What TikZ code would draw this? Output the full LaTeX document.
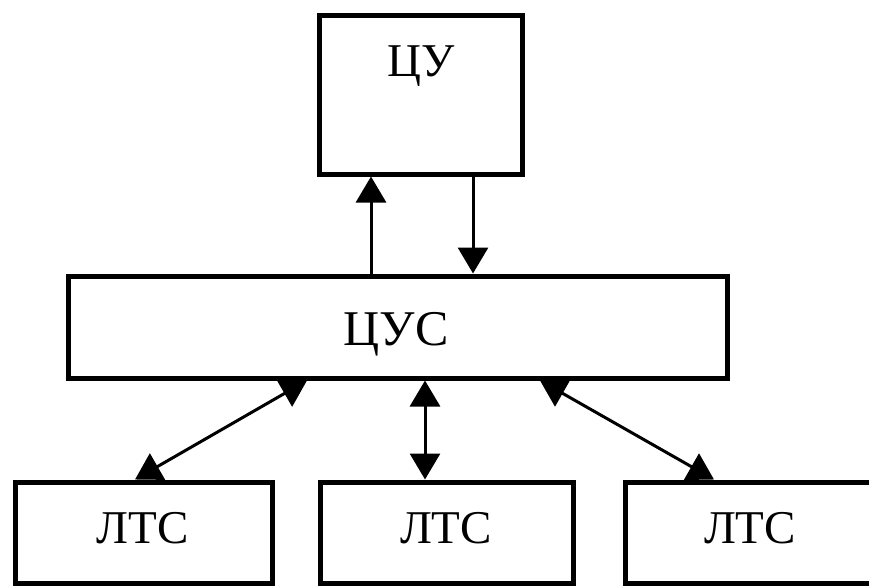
\documentclass[tikz,border=0pt]{standalone}
\usepackage{fontspec}
\setmainfont{Liberation Serif}
\usetikzlibrary{arrows.meta}
\begin{document}
\begin{tikzpicture}[x=1pt,y=-1pt,
  block/.style={draw,line width=5pt,minimum width=#1,inner sep=0pt},
  lbl/.style={font=\fontsize{47}{50}\selectfont,inner sep=0pt,anchor=base},
  tip/.style={Triangle[width=30pt,length=26pt]},
  link/.style={line width=3pt,-{Triangle[width=30pt,length=26pt]}},
  dlink/.style={line width=3pt,{Triangle[width=30pt,length=26pt]}-{Triangle[width=30pt,length=26pt]}}]
\useasboundingbox (0,0) rectangle (869,586);
\clip (0,0) rectangle (869,586);
% blocks
\node[block=203pt,minimum height=158pt] (cu) at (420.5,95) {};
\node[block=659pt,minimum height=102pt] (cus) at (397.5,327) {};
\node[block=257pt,minimum height=101pt] (l1) at (143.5,532.5) {};
\node[block=253pt,minimum height=101pt] (l2) at (446.5,532.5) {};
\node[block=250pt,minimum height=101pt] (l3) at (750,532.5) {};
% labels
\node[lbl] (tcu) at (421.5,76) {ЦУ};
\node[lbl,font=\fontsize{50}{54}\selectfont] (tcus) at (396,345) {ЦУС};
\node[lbl] (tl1) at (142.5,543) {ЛТС};
\node[lbl] (tl2) at (446,543) {ЛТС};
\node[lbl] (tl3) at (750,543) {ЛТС};
% connector columns
\coordinate (xup) at (371,0);
\coordinate (xdown) at (473,0);
\coordinate (xa) at (307,0);
\coordinate (xb) at (135,0);
\coordinate (xm) at (425,0);
\coordinate (xc) at (540,0);
\coordinate (xd) at (714,0);
% connectors
\draw[link] (cus.north -| xup) -- (cu.south -| xup);
\draw[link] (cu.south -| xdown) -- (cus.north -| xdown);
\draw[dlink] (cus.south -| xa) -- (l1.north -| xb);
\draw[dlink] (cus.south -| xm) -- (l2.north -| xm);
\draw[dlink] (cus.south -| xc) -- (l3.north -| xd);
\end{tikzpicture}
\end{document}
